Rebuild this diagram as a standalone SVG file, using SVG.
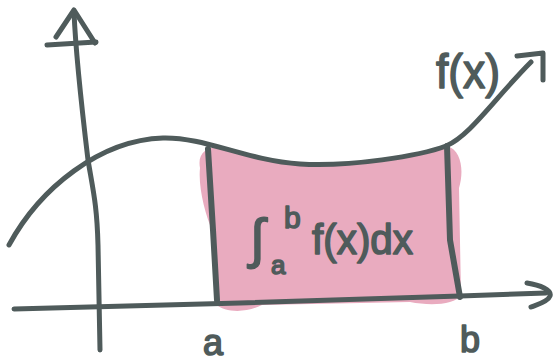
<svg xmlns="http://www.w3.org/2000/svg" width="554" height="362" viewBox="0 0 554 362">
<style>
.ink{fill:none;stroke:#4f5b5b;stroke-width:5;stroke-linecap:round;stroke-linejoin:round}
.thick{stroke-width:6}
.txt{fill:#4f5b5b;stroke:#4f5b5b;stroke-width:1.6;stroke-linejoin:round;font-family:"Liberation Sans","DejaVu Sans",sans-serif}
</style>
<rect width="554" height="362" fill="#ffffff"/>
<g id="area">
<path d="M200,168 C197,152 208,145 226,148 C250,153 270,160 300,164 C350,167 420,155 447,146 C462,150 464,172 459,188 L461,295 C455,305 430,306 410,302 L262,305 C246,313 226,313 215,304 L213,232 C205,215 198,186 200,168 Z" fill="#e9abbf"/>
</g>
<g id="bounds">
<path class="ink thick" d="M208,149 L213,230 L217,300"/>
<path class="ink thick" d="M447,146 L450,240 L460,297"/>
</g>
<g id="y-axis">
<path class="ink" d="M74,12 C76,60 82,110 88,160 C93,190 97,205 98,245 L100,350"/>
<path class="ink" d="M56,37 L74,10 L95,43"/>
<path class="ink" d="M47,45 L96,42"/>
</g>
<g id="x-axis">
<path class="ink" d="M14,309 L240,303 L460,296 L546,293"/>
<path class="ink" d="M527,283 C540,285 552,290 550,296 C548,302 536,305 531,307"/>
</g>
<g id="curve">
<path class="ink" d="M9,245 C40,188 100,140 163,138 C205,137 245,160 300,164 C350,167 420,156 446,146 C470,136 495,98 531,62"/>
<path class="ink" d="M517,56 L543,53 L543,80"/>
</g>
<g id="labels">
<text class="txt" x="436" y="88" font-size="48" textLength="64" lengthAdjust="spacingAndGlyphs">f(x)</text>
<text class="txt" x="250" y="257" font-size="54" font-family="DejaVu Sans" stroke-width="2.5">∫</text>
<text class="txt" x="284" y="228" font-size="30">b</text>
<text class="txt" x="271" y="274" font-size="26">a</text>
<text class="txt" x="312" y="254" font-size="42" textLength="101" lengthAdjust="spacingAndGlyphs">f(x)dx</text>
<text class="txt" x="213" y="355" font-size="36" text-anchor="middle">a</text>
<text class="txt" x="470" y="352" font-size="36" text-anchor="middle">b</text>
</g>
</svg>
